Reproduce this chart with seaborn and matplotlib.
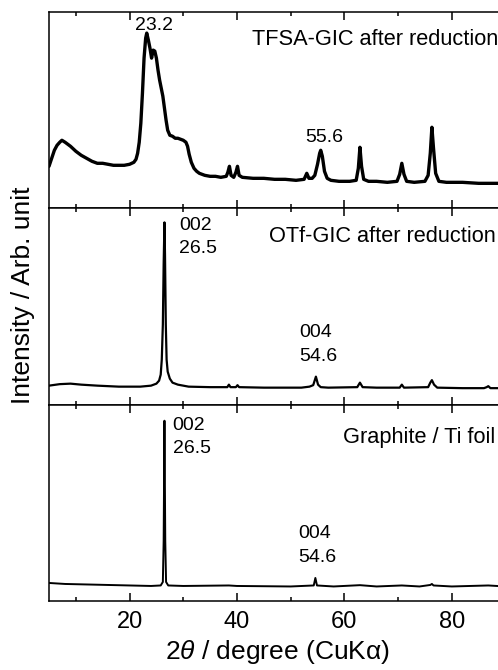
import matplotlib
matplotlib.use("Agg")
import matplotlib.pyplot as plt
import seaborn as sns
from matplotlib.ticker import MultipleLocator

# XRD patterns (2theta in degree, intensity in arb. units)
tfsa_2theta = [5.0, 5.5, 6.0, 6.5, 7.0, 7.4, 8.0, 9.0, 10.0, 11.0, 12.0, 13.0, 14.0, 15.0, 16.0,
               17.0, 18.0, 19.0, 20.0, 20.8, 21.2, 21.5, 21.8, 22.1, 22.4, 22.7, 23.0, 23.2, 23.5,
               23.8, 24.1, 24.4, 24.7, 25.0, 25.3, 25.6, 25.9, 26.2, 26.5, 26.8, 27.1, 27.5, 28.0,
               28.5, 29.0, 29.5, 30.0, 30.5, 30.8, 31.1, 31.5, 32.0, 32.5, 33.0, 34.0, 35.0, 36.0,
               37.0, 38.0, 38.3, 38.6, 38.9, 39.4, 39.8, 40.1, 40.4, 41.0, 43.0, 45.0, 47.0, 49.0,
               51.0, 52.5, 53.0, 53.4, 54.0, 54.5, 55.0, 55.4, 55.6, 55.9, 56.3, 56.8, 57.5, 59.0,
               61.0, 62.2, 62.6, 62.9, 63.2, 63.6, 64.5, 66.0, 68.0, 69.8, 70.3, 70.7, 71.1, 71.6,
               73.0, 75.0, 75.6, 76.0, 76.3, 76.6, 77.0, 77.6, 79.0, 82.0, 85.0, 88.0, 90.0]
tfsa_int = [42, 50, 58, 63, 66, 68, 66, 62, 57, 53, 50, 47, 45, 45, 44,
            43, 43, 43, 44, 46, 49, 55, 66, 85, 115, 150, 170, 175, 168,
            160, 150, 158, 157, 150, 138, 128, 120, 112, 100, 88, 78, 73, 72,
            70, 70, 69, 68, 66, 62, 54, 46, 40, 37, 35, 33, 32, 32,
            31, 32, 36, 42, 33, 31, 36, 42, 33, 31, 30, 30, 29, 29,
            28, 29, 35, 30, 30, 33, 44, 55, 58, 52, 37, 30, 28, 27,
            27, 28, 40, 61, 42, 29, 27, 27, 26, 27, 34, 45, 34, 27,
            26, 27, 33, 55, 81, 60, 35, 27, 26, 26, 25, 25, 25]

otf_2theta = [5.0, 7.0, 9.0, 11.0, 14.0, 18.0, 22.0, 24.0, 25.0, 25.5, 25.8, 26.0, 26.2, 26.35,
              26.5, 26.6, 26.75, 26.9, 27.1, 27.5, 28.0, 29.0, 31.0, 35.0, 38.2, 38.5, 38.8,
              39.8, 40.1, 40.4, 45.0, 52.0, 53.5, 54.2, 54.7, 55.1, 55.6, 57.0, 62.4, 62.9,
              63.4, 66.0, 70.3, 70.7, 71.1, 75.6, 76.0, 76.3, 76.7, 77.3, 82.0, 86.0, 86.5,
              86.8, 87.2, 90.0]
otf_int = [19, 20.5, 21, 20, 19, 18, 18, 19, 21, 24, 30, 45, 80, 140,
           182, 150, 80, 45, 33, 26, 22, 20, 18, 17.5, 17.5, 20, 17.5,
           17.5, 19.5, 17.5, 17, 17, 18, 19.5, 28, 20, 17.5, 17, 17.5, 22,
           17.5, 17, 17, 20, 17, 17.5, 22, 24.5, 20, 17, 16.5, 16.5, 17.5,
           18.5, 16.5, 16.5]

graphite_2theta = [5.0, 8.0, 12.0, 16.0, 20.0, 24.0, 25.8, 26.2, 26.35, 26.5, 26.65, 26.8, 27.2,
                   30.0, 38.5, 40.0, 50.0, 54.3, 54.6, 54.9, 58.0, 62.9, 66.0, 70.7, 74.0,
                   76.0, 76.3, 76.6, 80.0, 86.8, 90.0]
graphite_int = [18, 17, 16.5, 16, 15.5, 15, 15.5, 19, 60, 180, 60, 19, 15.5,
                15, 15.5, 15, 14.5, 15.5, 23, 15.5, 14.5, 15.8, 14.5, 15.5, 14.5,
                16, 17, 15.5, 14.5, 15.5, 14.5]

panel_names = ["TFSA-GIC after reduction", "OTf-GIC after reduction", "Graphite / Ti foil"]
# (text, x position in degree, baseline height)
peak_labels = [
    [("23.2", 21.0, 178), ("55.6", 52.7, 66)],
    [("002", 29.2, 174), ("26.5", 29.2, 151), ("004", 51.6, 68), ("54.6", 51.6, 44)],
    [("002", 28.0, 171), ("26.5", 28.0, 148), ("004", 51.4, 63), ("54.6", 51.4, 39)],
]
name_pos = [(42.8, 163), (46.0, 162), (59.8, 158)]

sns.set_style("ticks")
plt.rcParams["font.family"] = ["Liberation Sans", "DejaVu Sans"]
plt.rcParams["mathtext.fontset"] = "custom"
plt.rcParams["mathtext.it"] = "Liberation Sans:italic"
plt.rcParams["mathtext.rm"] = "Liberation Sans"
plt.rcParams["text.color"] = "black"
plt.rcParams["axes.labelcolor"] = "black"
plt.rcParams["xtick.color"] = "black"

fig, axes = plt.subplots(3, 1, sharex=True, figsize=(4.98, 6.70), dpi=100)
fig.subplots_adjust(left=0.0984, right=1.015, top=0.982, bottom=0.103, hspace=0)

data = [(tfsa_2theta, tfsa_int, 2.4), (otf_2theta, otf_int, 1.6), (graphite_2theta, graphite_int, 1.4)]
for i, ax in enumerate(axes):
    xs, ys, lw = data[i]
    sns.lineplot(x=xs, y=ys, ax=ax, color="black", lw=lw, estimator=None)
    ax.set_xlim(5, 90)
    ax.set_ylim(0, 196)
    ax.set_yticks([])
    ax.xaxis.set_major_locator(MultipleLocator(20))
    ax.xaxis.set_minor_locator(MultipleLocator(10))
    ax.tick_params(axis="x", which="both", direction="in", top=True, bottom=True, width=1.1)
    ax.tick_params(axis="x", which="major", length=5.5, labelsize=17, pad=7)
    ax.tick_params(axis="x", which="minor", length=3.2)
    for sp in ax.spines.values():
        sp.set_linewidth(1.1)
        sp.set_color("black")
    ax.text(name_pos[i][0], name_pos[i][1], panel_names[i], fontsize=15.7, va="baseline", ha="left")
    for txt, x, y in peak_labels[i]:
        ax.text(x, y, txt, fontsize=14, va="baseline", ha="left")

axes[-1].set_xlabel("2$\\theta$ / degree (CuKα)", fontsize=19, labelpad=4)
fig.text(0.046, 0.56, "Intensity / Arb. unit", rotation=90, fontsize=19, ha="center", va="center")

fig.savefig("out.png", dpi=100)
